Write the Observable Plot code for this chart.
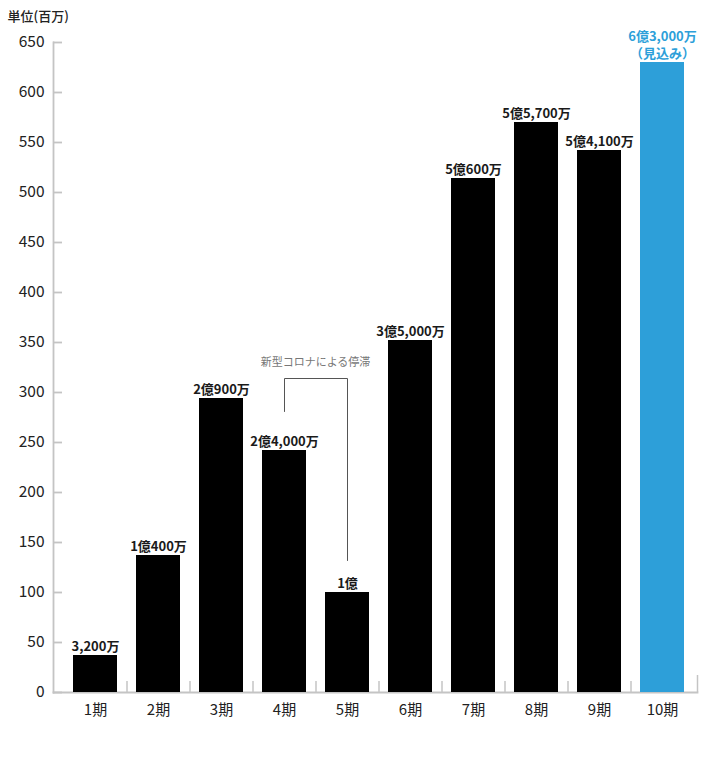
<!DOCTYPE html>
<html>
<head>
<meta charset="utf-8">
<script src="https://cdn.jsdelivr.net/npm/d3@7"></script>
<script src="https://cdn.jsdelivr.net/npm/@observablehq/plot@0.6"></script>
<style>
  html, body { margin: 0; padding: 0; background: #fff; }
</style>
</head>
<body>
<div id="chart"></div>
<script>
const periods = ["1期", "2期", "3期", "4期", "5期", "6期", "7期", "8期", "9期", "10期"];
const values = [37, 137, 294, 242, 100, 352, 514, 570, 542, 630];
const labels = ["3,200万", "1億400万", "2億900万", "2億4,000万", "1億", "3億5,000万", "5億600万", "5億5,700万", "5億4,100万", "6億3,000万\n（見込み）"];
const forecast = [false, false, false, false, false, false, false, false, false, true];
const yTicks = [0, 50, 100, 150, 200, 250, 300, 350, 400, 450, 500, 550, 600, 650];
const unitLabel = ["単位(百万)"];
const noteText = ["新型コロナによる停滞"];
const noteX = ["4期"];
const noteY = [330];
const bracketX = ["4期", "4期", "5期", "5期"];
const bracketY = [281, 314, 314, 132];

const BLACK = "#000000";
const BLUE = "#2d9fd9";
const GRAY = "#c4c4c4";
const idx = periods.map((_, i) => i);

const chart = Plot.plot({
  width: 720,
  height: 777,
  marginLeft: 53,
  marginRight: 23,
  marginTop: 42,
  marginBottom: 85,
  style: { fontFamily: "'Noto Sans CJK JP', 'Noto Sans', sans-serif", background: "#fff", color: "#222" },
  x: { domain: periods, paddingInner: 0.3, paddingOuter: 0.15, insetLeft: 11, insetRight: 3, label: null },
  y: { domain: [0, 650], label: null },
  marks: [
    Plot.frame({ anchor: "left", stroke: GRAY, strokeWidth: 1.8 }),
    Plot.frame({ anchor: "bottom", stroke: GRAY, strokeWidth: 1.8 }),
    Plot.tickY(yTicks, { y: d => d, stroke: GRAY, strokeWidth: 1.8, insetRight: 644 - 9 }),
    Plot.ruleX(idx.slice(0, 9), { x: i => periods[i], y1: 0, y2: 11, dx: 31.5, stroke: GRAY, strokeWidth: 1.5 }),
    Plot.ruleX([9], { x: i => periods[i], y1: 0, y2: 17, dx: 35, stroke: GRAY, strokeWidth: 1.5 }),
    Plot.axisY({ ticks: yTicks, tickSize: 0, tickPadding: 9, fontSize: 15.5, label: null, fill: "#222" }),
    Plot.axisX({ tickSize: 0, tickPadding: 12, fontSize: 15, label: null, fill: "#222" }),
    Plot.barY(idx, { x: i => periods[i], y: i => values[i], fill: i => forecast[i] ? BLUE : BLACK }),
    Plot.text(idx, {
      x: i => periods[i], y: i => values[i], text: i => labels[i],
      fill: i => forecast[i] ? BLUE : "#1a1a1a",
      lineAnchor: "bottom", lineHeight: 1.25, dy: -5, fontSize: 13, fontWeight: 600
    }),
    Plot.line(bracketY, { x: (d, i) => bracketX[i], y: d => d, stroke: "#555", strokeWidth: 1 }),
    Plot.text(noteText, { x: (d, i) => noteX[i], y: (d, i) => noteY[i], text: d => d, dx: 31, fontSize: 11, fill: "#777" }),
    Plot.text(unitLabel, { frameAnchor: "top-left", text: d => d, dx: -46, dy: -26, textAnchor: "start", lineAnchor: "middle", fontSize: 13, fontWeight: 500, fill: "#222" })
  ]
});
document.getElementById("chart").appendChild(chart);
</script>
</body>
</html>
